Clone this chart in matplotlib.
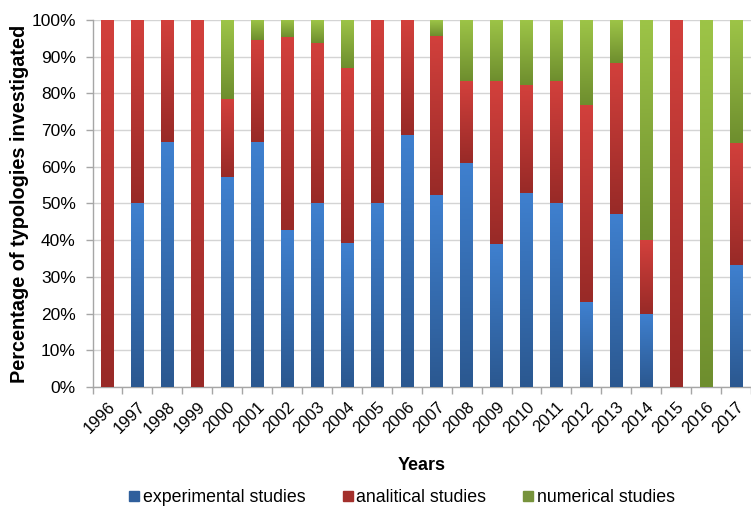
import numpy as np
import matplotlib
matplotlib.use("Agg")
import matplotlib.pyplot as plt
from matplotlib.colors import to_rgb
from matplotlib.lines import Line2D

plt.rcParams['font.family'] = ['Liberation Sans', 'DejaVu Sans']

years = ['1996', '1997', '1998', '1999', '2000', '2001', '2002', '2003', '2004', '2005', '2006',
         '2007', '2008', '2009', '2010', '2011', '2012', '2013', '2014', '2015', '2016', '2017']
experimental = [0, 50, 66.7, 0, 57.1, 66.7, 42.9, 50, 39.1, 50, 68.75,
                52.2, 61.1, 38.9, 52.9, 50, 23.1, 47.1, 20, 0, 0, 33.3]
analitical = [100, 50, 33.3, 100, 21.45, 27.8, 52.4, 43.75, 47.8, 50, 31.25,
              43.5, 22.2, 44.4, 29.4, 33.3, 53.8, 41.2, 20, 100, 0, 33.3]
numerical = [0, 0, 0, 0, 21.45, 5.5, 4.7, 6.25, 13.1, 0, 0,
             4.3, 16.7, 16.7, 17.7, 16.7, 23.1, 11.7, 60, 0, 100, 33.4]

series = [
    ('experimental studies', experimental, '#3F80CF', '#2B5890', '#2F5F9C'),
    ('analitical studies', analitical, '#D2403C', '#982A27', '#A3302C'),
    ('numerical studies', numerical, '#9DC447', '#6E8E2E', '#77933C'),
]

fig = plt.figure(figsize=(7.51, 5.11), dpi=100)
ax = fig.add_axes([0.1232, 0.2427, 0.8768, 0.7183])

x = np.arange(len(years))
bottom = np.zeros(len(years))
grad_n = 64
for name, vals, top_c, bot_c, _ in series:
    vals = np.array(vals, dtype=float)
    bars = ax.bar(x, vals, width=0.42, bottom=bottom, facecolor='none',
                  edgecolor='none', zorder=3)
    t = np.linspace(0, 1, grad_n)[:, None]
    grad = (1 - t) * np.array(to_rgb(bot_c)) + t * np.array(to_rgb(top_c))
    grad = grad[:, None, :]
    for rect in bars:
        h = rect.get_height()
        if h <= 0:
            continue
        x0, y0 = rect.get_x(), rect.get_y()
        im = ax.imshow(grad, extent=(x0, x0 + rect.get_width(), y0, y0 + h),
                       origin='lower', aspect='auto', interpolation='bilinear', zorder=3)
        im.set_clip_path(rect)
    bottom += vals

ax.set_xlim(-0.5, len(years) - 0.5)
ax.set_ylim(0, 100)
ax.set_yticks(np.arange(0, 101, 10))
ax.set_yticklabels([f'{v}%' for v in range(0, 101, 10)], fontsize=12.5)
ax.yaxis.grid(True, color='#D4D4D4', linewidth=1.0, zorder=0)
ax.set_axisbelow(True)

ax.set_xticks(x)
ax.set_xticklabels(years, rotation=45, ha='right', rotation_mode='anchor', fontsize=12)
ax.set_xticks(np.arange(-0.5, len(years), 1), minor=True)
ax.tick_params(axis='x', which='major', length=0, pad=9)
ax.tick_params(axis='x', which='minor', length=5, color='#A6A6A6', width=1)
ax.tick_params(axis='y', length=5, color='#A6A6A6', width=1, pad=7)

for side in ['top', 'right']:
    ax.spines[side].set_visible(False)
for side in ['left', 'bottom']:
    ax.spines[side].set_color('#A6A6A6')
    ax.spines[side].set_linewidth(1)

ax.set_ylabel('Percentage of typologies investigated', fontsize=14.3, fontweight='bold', labelpad=2)
ax.set_xlabel('Years', fontsize=13, fontweight='bold', labelpad=15)

handles = [Line2D([], [], marker='s', linestyle='none', markersize=7,
                  markerfacecolor=c, markeredgecolor=c) for _, _, _, _, c in series]
labels = [s[0] for s in series]
fig.legend(handles, labels, loc='center', bbox_to_anchor=(0.533, 0.026), ncol=3,
           frameon=False, fontsize=12.8, handletextpad=0.0, columnspacing=1.85,
           handlelength=1.0)

fig.savefig('out.png', dpi=100)
